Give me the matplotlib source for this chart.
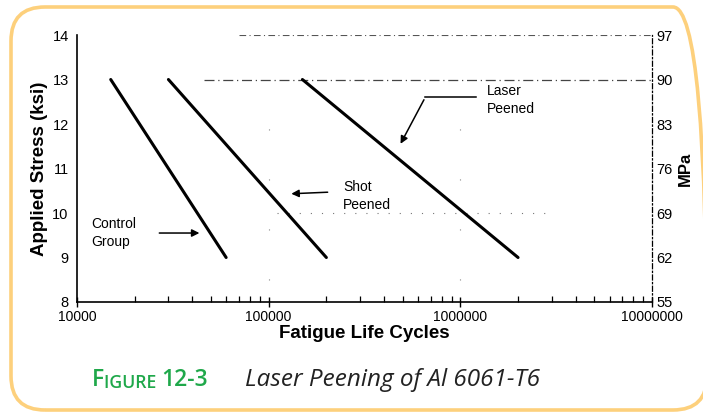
import numpy as np
import matplotlib
matplotlib.use("Agg")
import matplotlib.pyplot as plt
from matplotlib.patches import FancyBboxPatch

plt.rcParams['font.family'] = ['Liberation Sans', 'DejaVu Sans']

# S-N curves, start and end points (cycles, ksi)
control_cycles = [15000, 60000]
control_ksi = [13, 9]
shot_cycles = [30000, 200000]
shot_ksi = [13, 9]
laser_cycles = [150000, 2000000]
laser_ksi = [13, 9]

ksi_ticks = [8, 9, 10, 11, 12, 13, 14]
mpa_labels = ['55', '62', '69', '76', '83', '90', '97']
x_ticks = [1e4, 1e5, 1e6, 1e7]
x_labels = ['10000', '100000', '1000000', '10000000']

fig = plt.figure(figsize=(7.03, 4.12), dpi=100)
ax = fig.add_axes([0.1095, 0.267, 0.818, 0.648])

# faded grid lines
ax.hlines(14, 7e4, 1e7, colors='#555555', linestyles=(0, (6, 3, 1, 3)), lw=0.8)
ax.hlines(13, 4.6e4, 1e7, colors='#444444', linestyles=(0, (8, 3, 1, 3)), lw=0.9)
ax.hlines(10, 1.1e5, 3e6, colors='#777777', linestyles=(0, (1, 9)), lw=0.8)
ax.vlines([1e5, 1e6], 8.5, 12.5, colors='#888888', linestyles=(0, (1, 44)), lw=0.8)

ax.plot(control_cycles, control_ksi, color='black', lw=2.2, solid_capstyle='round')
ax.plot(shot_cycles, shot_ksi, color='black', lw=2.2, solid_capstyle='round')
ax.plot(laser_cycles, laser_ksi, color='black', lw=2.2, solid_capstyle='round')

ax.set_xscale('log')
ax.set_xlim(1e4, 1e7)
ax.set_ylim(8, 14)
ax.set_xticks(x_ticks)
ax.set_xticklabels(x_labels)
ax.set_yticks(ksi_ticks)
ax.tick_params(axis='x', which='major', direction='inout', length=7, width=1, labelsize=10, pad=2)
ax.tick_params(axis='x', which='minor', direction='in', length=4, width=0.9)
ax.tick_params(axis='y', length=0, labelsize=10.5, pad=6)

ax.spines['top'].set_visible(False)
ax.spines['left'].set_linewidth(1.2)
ax.spines['bottom'].set_linewidth(1.2)
ax.spines['right'].set_linestyle((0, (4, 2, 1, 2)))
ax.spines['right'].set_linewidth(0.9)

ax2 = ax.twinx()
ax2.set_ylim(8, 14)
ax2.set_yticks(ksi_ticks)
ax2.set_yticklabels(mpa_labels)
ax2.tick_params(axis='y', length=0, labelsize=10.5, pad=3)
for s in ax2.spines.values():
    s.set_visible(False)
ax2.set_ylabel('MPa', fontsize=12, fontweight='bold', labelpad=4)

ax.set_xlabel('Fatigue Life Cycles', fontsize=13.5, fontweight='bold', labelpad=1)
ax.set_ylabel('Applied Stress (ksi)', fontsize=13.5, fontweight='bold', labelpad=3)

# callouts
arrow = dict(arrowstyle='-|>', color='black', lw=1.1, mutation_scale=11)
ax.text(1.18e4, 9.55, 'Control\nGroup', fontsize=10, va='center', ha='left', linespacing=1.3)
ax.annotate('', xy=(4.5e4, 9.55), xytext=(2.6e4, 9.55), arrowprops=arrow)

ax.text(2.45e5, 10.38, 'Shot\nPeened', fontsize=10, va='center', ha='left', linespacing=1.3)
ax.annotate('', xy=(1.27e5, 10.43), xytext=(2.1e5, 10.47), arrowprops=arrow)

ax.text(1.38e6, 12.54, 'Laser\nPeened', fontsize=10, va='center', ha='left', linespacing=1.3)
ax.plot([1.2e6, 6.56e5], [12.6, 12.6], color='black', lw=1.1)
ax.annotate('', xy=(4.8e5, 11.5), xytext=(6.56e5, 12.6), arrowprops=arrow)

# caption
green = '#1fa84a'
cap_font = ['Open Sans', 'DejaVu Sans']
t1 = fig.text(0.131, 0.062, 'F', fontsize=16.5, color=green, fontweight='semibold',
              family=cap_font, va='baseline')
t2 = ax.annotate('IGURE ', xy=(1, 0), xycoords=t1, va='bottom', ha='left',
                 fontsize=12.7, color=green, fontweight='semibold',
                 family=cap_font, annotation_clip=False)
ax.annotate('12-3', xy=(1, 0), xycoords=t2, va='bottom', ha='left',
            fontsize=16.5, color=green, fontweight='semibold',
            family=cap_font, annotation_clip=False)
fig.text(0.348, 0.062, 'Laser Peening of Al 6061-T6', fontsize=17.5, color='#222222',
         style='italic', family=cap_font, va='baseline')

# rounded frame
frame = FancyBboxPatch((0.11, 0.02), 6.96, 4.03, boxstyle='round,pad=0,rounding_size=0.34',
                       transform=fig.dpi_scale_trans, fill=False, edgecolor='#fdd07c', lw=2.6)
fig.patches.append(frame)

fig.savefig('out.png', dpi=100)
